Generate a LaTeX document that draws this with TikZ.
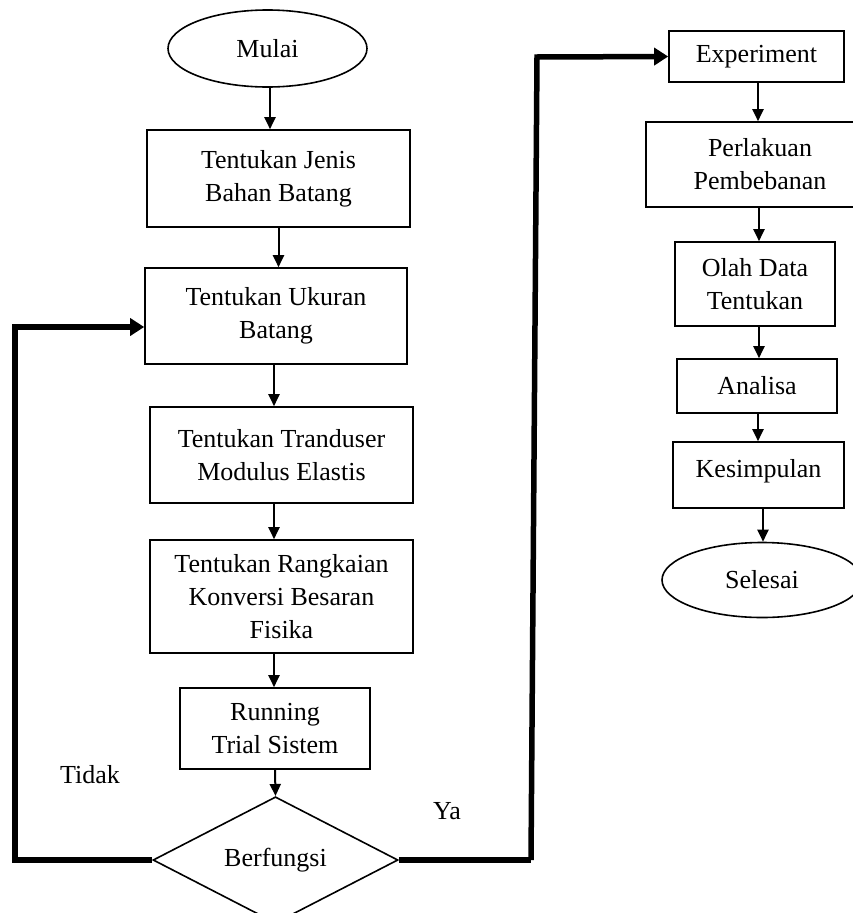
\documentclass[tikz,border=0pt]{standalone}
\usepackage{fontspec}
\setmainfont{Liberation Serif}
\usetikzlibrary{shapes.geometric,arrows.meta,calc}
\begin{document}
\begin{tikzpicture}[x=1pt,y=-1pt,
  every node/.style={font=\fontsize{26}{33}\selectfont, align=center, inner sep=0pt},
  procbox/.style={draw, line width=1.6pt, rectangle},
  termin/.style={draw, line width=1.6pt, ellipse},
  decis/.style={draw, line width=1.6pt, diamond},
  arr/.style={line width=2pt, -{Triangle[length=12pt,width=11pt]}},
  thickarr/.style={line width=5.5pt, -{Triangle[length=14pt,width=17pt]}},
  thickline/.style={line width=5.5pt}]
\useasboundingbox (0,0) rectangle (853,913);
\clip (0,0) rectangle (853,913);
% left column
\node[termin, minimum width=199pt, minimum height=77pt] (mulai) at (267.5,48.5) {Mulai};
\node[procbox, minimum width=263pt, minimum height=97pt] (b1) at (278.5,178.5) {Tentukan Jenis\\Bahan Batang};
\node[procbox, minimum width=262pt, minimum height=96pt] (b2) at (276,316) {Tentukan Ukuran\\Batang};
\node[procbox, minimum width=263pt, minimum height=96pt] (b3) at (281.5,455) {Tentukan Tranduser\\Modulus Elastis};
\node[procbox, minimum width=263pt, minimum height=113pt] (b4) at (281.5,596.5) {Tentukan Rangkaian\\Konversi Besaran\\Fisika};
\node[procbox, minimum width=190pt, minimum height=81pt] (b5) at (275,728.5) {Running\\Trial Sistem};
\node[decis, minimum width=245pt, minimum height=104pt] (dia) at (275.5,860) {Berfungsi};
% right column
\node[procbox, minimum width=175pt, minimum height=51pt] (exp) at (756.5,56.5) {Experiment};
\node[procbox, minimum width=228pt, minimum height=85pt] (perl) at (760,164.5) {Perlakuan\\Pembebanan};
\node[procbox, minimum width=160pt, minimum height=84pt] (olah) at (755,284) {Olah Data\\Tentukan};
\node[procbox, minimum width=160pt, minimum height=54pt] (anal) at (757,386) {Analisa};
\node[procbox, minimum width=171pt, minimum height=66pt] (kes) at (758.5,475) {Kesimpulan\\[-19pt]\mbox{}};
\node[termin, minimum width=200pt, minimum height=75pt] (sel) at (762,580) {Selesai};
% labels
\node (tidak) at (90,775) {Tidak};
\node (ya) at (447,811) {Ya};
% thin arrows left
\draw[arr] ([xshift=2.5pt]mulai.south) -- ([xshift=2.5pt]mulai.south |- b1.north);
\draw[arr] (b1.south) -- (b1.south |- b2.north);
\draw[arr] ([xshift=-2pt]b2.south) -- ([xshift=-2pt]b2.south |- b3.north);
\draw[arr] ([xshift=-7.5pt]b3.south) -- ([xshift=-7.5pt]b3.south |- b4.north);
\draw[arr] ([xshift=-7.5pt]b4.south) -- ([xshift=-7.5pt]b4.south |- b5.north);
\draw[arr] (b5.south) -- (dia.north);
% thin arrows right
\draw[arr] ([xshift=1.5pt]exp.south) -- ([xshift=1.5pt]exp.south |- perl.north);
\draw[arr] ([xshift=4pt]olah.north |- perl.south) -- ([xshift=4pt]olah.north);
\draw[arr] ([xshift=4pt]olah.south) -- ([xshift=4pt]olah.south |- anal.north);
\draw[arr] ([xshift=1pt]anal.south) -- ([xshift=1pt]anal.south |- kes.north);
\draw[arr] ([xshift=4.5pt]kes.south) -- ([xshift=4.5pt]kes.south |- sel.north);
% loops
\coordinate (inb2) at (b2.west |- 0,327);
\draw[thickarr] (dia.west) -| (15,327) -- (inb2);
\coordinate (rb) at (531,860);
\coordinate (rt) at (537,57);
\draw[thickline] (dia.east) -- (rb);
\draw[thickarr] (rb) -- (rt) -- (exp.west);
\end{tikzpicture}
\end{document}
